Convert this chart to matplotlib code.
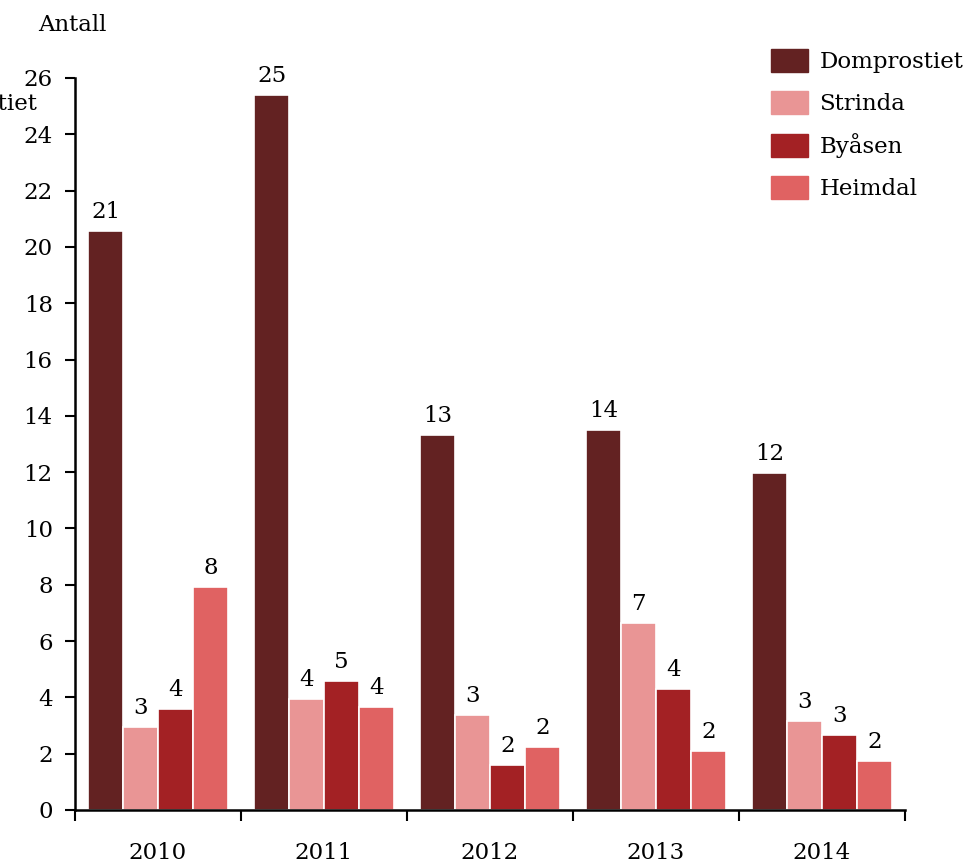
import matplotlib.pyplot as plt
from matplotlib.patches import Patch
import numpy as np

years = ['2010', '2011', '2012', '2013', '2014']
series = ['Domprostiet', 'Strinda', 'Byåsen', 'Heimdal']
colors = ['#632222', '#E99595', '#A32124', '#E06262']

domprostiet = [20.57, 25.4, 13.32, 13.5, 11.97]
strinda = [2.95, 3.94, 3.37, 6.64, 3.16]
byasen = [3.59, 4.58, 1.6, 4.3, 2.66]
heimdal = [7.92, 3.66, 2.24, 2.1, 1.74]

BAR_WIDTH = 0.21
FS = 16.5

plt.rcParams['font.family'] = ['DejaVu Serif']


def main():
    fig = plt.figure(figsize=(9.69, 8.64), dpi=100)
    ax = fig.add_axes([75 / 969, 1 - 810 / 864, 830 / 969, 732 / 864])

    values = [domprostiet, strinda, byasen, heimdal]
    index = np.arange(len(years))
    for i, (name, vals) in enumerate(zip(series, values)):
        pos = index + (i - 1.5) * BAR_WIDTH
        ax.bar(pos, vals, BAR_WIDTH, color=colors[i], edgecolor='white',
               linewidth=1.2, label=name)
        for a, b in zip(pos, vals):
            ax.annotate('%d' % int(b + 0.5), (a, b), xytext=(0, 6),
                        textcoords='offset points', ha='center', va='bottom',
                        fontsize=FS)

    ax.set_xlim(-0.5, len(years) - 0.5)
    ax.set_ylim(0, 26)
    ax.set_yticks(np.arange(0, 27, 2))
    ax.tick_params(axis='y', labelsize=FS, length=7, width=1.5, direction='out', pad=9)
    ax.set_xticks(np.arange(-0.5, len(years), 1))
    ax.set_xticklabels([])
    ax.set_xticks(index, minor=True)
    ax.set_xticklabels(years, minor=True, fontsize=FS)
    ax.tick_params(axis='x', which='major', length=8, width=1.5)
    ax.tick_params(axis='x', which='minor', length=0, pad=23)

    for s in ['top', 'right']:
        ax.spines[s].set_visible(False)
    for s in ['left', 'bottom']:
        ax.spines[s].set_linewidth(1.8)

    fig.text(38 / 969, 1 - 25 / 864, 'Antall', fontsize=FS, ha='left', va='center')
    fig.text(38 / 969, 1 - 104 / 864, 'Domprostiet', fontsize=FS, ha='right', va='center')

    handles = [Patch(color=c) for c in colors]
    fig.legend(handles, series, loc='upper left', bbox_to_anchor=(762 / 969, 1 - 40 / 864),
               frameon=False, fontsize=FS, handlelength=1.6, handleheight=1.15,
               labelspacing=0.78, handletextpad=0.5, borderaxespad=0)

    fig.savefig('out.png', dpi=100)


if __name__ == '__main__':
    main()
